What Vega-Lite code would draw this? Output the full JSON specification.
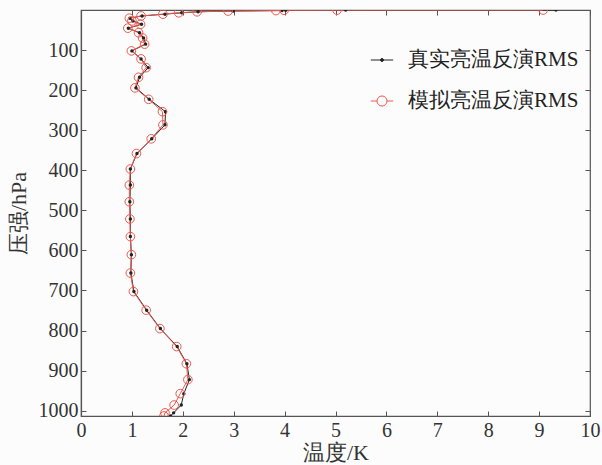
{
  "$schema": "https://vega.github.io/schema/vega-lite/v6.json",
  "width": 509,
  "height": 406,
  "autosize": {"type": "none"},
  "padding": {"left": 81, "top": 10, "right": 12, "bottom": 49},
  "background": "#fcfcfc",
  "config": {
    "view": {"stroke": "#555", "strokeWidth": 1.2},
    "font": "Liberation Serif, Times New Roman, serif",
    "axis": {
      "grid": false,
      "domainColor": "#555",
      "domainWidth": 1.2,
      "tickColor": "#555",
      "tickSize": -5,
      "labelFontSize": 20,
      "labelColor": "#333",
      "labelFont": "Liberation Serif, Times New Roman, serif",
      "labelFlush": false,
      "titleFontSize": 22,
      "titleFontWeight": "normal",
      "titleColor": "#333",
      "titleFont": "Liberation Serif, Times New Roman, serif"
    }
  },
  "datasets": {
    "rms": [
      {"p": 0.1, "s": "真实亮温反演RMS", "v": 9.33},
      {"p": 0.29, "s": "真实亮温反演RMS", "v": 5.2},
      {"p": 0.69, "s": "真实亮温反演RMS", "v": 4.02},
      {"p": 1.42, "s": "真实亮温反演RMS", "v": 3.95},
      {"p": 2.611, "s": "真实亮温反演RMS", "v": 2.99},
      {"p": 4.407, "s": "真实亮温反演RMS", "v": 2.3},
      {"p": 6.95, "s": "真实亮温反演RMS", "v": 1.98},
      {"p": 10.37, "s": "真实亮温反演RMS", "v": 1.65},
      {"p": 14.81, "s": "真实亮温反演RMS", "v": 1.2},
      {"p": 20.4, "s": "真实亮温反演RMS", "v": 0.96},
      {"p": 27.26, "s": "真实亮温反演RMS", "v": 1.02},
      {"p": 35.51, "s": "真实亮温反演RMS", "v": 1.19},
      {"p": 45.29, "s": "真实亮温反演RMS", "v": 0.93},
      {"p": 56.73, "s": "真实亮温反演RMS", "v": 1.15},
      {"p": 69.97, "s": "真实亮温反演RMS", "v": 1.23},
      {"p": 85.18, "s": "真实亮温反演RMS", "v": 1.27},
      {"p": 102.05, "s": "真实亮温反演RMS", "v": 1.0},
      {"p": 122.04, "s": "真实亮温反演RMS", "v": 1.18},
      {"p": 143.84, "s": "真实亮温反演RMS", "v": 1.32},
      {"p": 167.95, "s": "真实亮温反演RMS", "v": 1.15},
      {"p": 194.36, "s": "真实亮温反演RMS", "v": 1.08},
      {"p": 222.94, "s": "真实亮温反演RMS", "v": 1.34},
      {"p": 253.71, "s": "真实亮温反演RMS", "v": 1.66},
      {"p": 286.6, "s": "真实亮温反演RMS", "v": 1.65},
      {"p": 321.5, "s": "真实亮温反演RMS", "v": 1.39},
      {"p": 358.28, "s": "真实亮温反演RMS", "v": 1.1},
      {"p": 396.81, "s": "真实亮温反演RMS", "v": 0.97},
      {"p": 436.95, "s": "真实亮温反演RMS", "v": 0.97},
      {"p": 478.54, "s": "真实亮温反演RMS", "v": 0.96},
      {"p": 521.46, "s": "真实亮温反演RMS", "v": 0.97},
      {"p": 565.54, "s": "真实亮温反演RMS", "v": 0.97},
      {"p": 610.6, "s": "真实亮温反演RMS", "v": 0.99},
      {"p": 656.43, "s": "真实亮温反演RMS", "v": 0.98},
      {"p": 702.73, "s": "真实亮温反演RMS", "v": 1.04},
      {"p": 749.12, "s": "真实亮温反演RMS", "v": 1.29},
      {"p": 795.09, "s": "真实亮温反演RMS", "v": 1.56},
      {"p": 839.95, "s": "真实亮温反演RMS", "v": 1.89},
      {"p": 882.8, "s": "真实亮温反演RMS", "v": 2.08},
      {"p": 922.46, "s": "真实亮温反演RMS", "v": 2.13},
      {"p": 957.44, "s": "真实亮温反演RMS", "v": 2.02},
      {"p": 985.88, "s": "真实亮温反演RMS", "v": 1.97},
      {"p": 1005.43, "s": "真实亮温反演RMS", "v": 1.82},
      {"p": 1013.25, "s": "真实亮温反演RMS", "v": 1.76},
      {"p": 0.1, "s": "模拟亮温反演RMS", "v": 9.08},
      {"p": 0.29, "s": "模拟亮温反演RMS", "v": 5.03},
      {"p": 0.69, "s": "模拟亮温反演RMS", "v": 3.99},
      {"p": 1.42, "s": "模拟亮温反演RMS", "v": 3.83},
      {"p": 2.611, "s": "模拟亮温反演RMS", "v": 2.89},
      {"p": 4.407, "s": "模拟亮温反演RMS", "v": 2.28},
      {"p": 6.95, "s": "模拟亮温反演RMS", "v": 1.92},
      {"p": 10.37, "s": "模拟亮温反演RMS", "v": 1.61},
      {"p": 14.81, "s": "模拟亮温反演RMS", "v": 1.18},
      {"p": 20.4, "s": "模拟亮温反演RMS", "v": 0.95},
      {"p": 27.26, "s": "模拟亮温反演RMS", "v": 1.0},
      {"p": 35.51, "s": "模拟亮温反演RMS", "v": 1.17},
      {"p": 45.29, "s": "模拟亮温反演RMS", "v": 0.92},
      {"p": 56.73, "s": "模拟亮温反演RMS", "v": 1.13},
      {"p": 69.97, "s": "模拟亮温反演RMS", "v": 1.21},
      {"p": 85.18, "s": "模拟亮温反演RMS", "v": 1.25},
      {"p": 102.05, "s": "模拟亮温反演RMS", "v": 0.99},
      {"p": 122.04, "s": "模拟亮温反演RMS", "v": 1.18},
      {"p": 143.84, "s": "模拟亮温反演RMS", "v": 1.28},
      {"p": 167.95, "s": "模拟亮温反演RMS", "v": 1.13},
      {"p": 194.36, "s": "模拟亮温反演RMS", "v": 1.06},
      {"p": 222.94, "s": "模拟亮温反演RMS", "v": 1.33},
      {"p": 253.71, "s": "模拟亮温反演RMS", "v": 1.6},
      {"p": 286.6, "s": "模拟亮温反演RMS", "v": 1.61},
      {"p": 321.5, "s": "模拟亮温反演RMS", "v": 1.38},
      {"p": 358.28, "s": "模拟亮温反演RMS", "v": 1.09},
      {"p": 396.81, "s": "模拟亮温反演RMS", "v": 0.97},
      {"p": 436.95, "s": "模拟亮温反演RMS", "v": 0.95},
      {"p": 478.54, "s": "模拟亮温反演RMS", "v": 0.95},
      {"p": 521.46, "s": "模拟亮温反演RMS", "v": 0.96},
      {"p": 565.54, "s": "模拟亮温反演RMS", "v": 0.97},
      {"p": 610.6, "s": "模拟亮温反演RMS", "v": 0.99},
      {"p": 656.43, "s": "模拟亮温反演RMS", "v": 0.97},
      {"p": 702.73, "s": "模拟亮温反演RMS", "v": 1.03},
      {"p": 749.12, "s": "模拟亮温反演RMS", "v": 1.28},
      {"p": 795.09, "s": "模拟亮温反演RMS", "v": 1.55},
      {"p": 839.95, "s": "模拟亮温反演RMS", "v": 1.88},
      {"p": 882.8, "s": "模拟亮温反演RMS", "v": 2.07},
      {"p": 922.46, "s": "模拟亮温反演RMS", "v": 2.1},
      {"p": 957.44, "s": "模拟亮温反演RMS", "v": 1.95},
      {"p": 985.88, "s": "模拟亮温反演RMS", "v": 1.83},
      {"p": 1005.43, "s": "模拟亮温反演RMS", "v": 1.65},
      {"p": 1013.25, "s": "模拟亮温反演RMS", "v": 1.63}
    ]
  },
  "data": {"name": "rms"},
  "resolve": {"axis": {"x": "independent", "y": "independent"}},
  "layer": [
    {
      "mark": {"type": "line", "strokeWidth": 1, "clip": true},
      "encoding": {
        "x": {
          "field": "v", "type": "quantitative",
          "scale": {"domain": [0, 10], "nice": false, "zero": false},
          "axis": {"values": [0,1,2,3,4,5,6,7,8,9,10], "format": "d", "title": "温度/K", "labelFlush": false, "labelPadding": 9, "titlePadding": 2}
        },
        "y": {
          "field": "p", "type": "quantitative",
          "scale": {"domain": [0, 1013.25], "nice": false, "zero": false, "reverse": true},
          "axis": {"values": [100,200,300,400,500,600,700,800,900,1000], "format": "d", "title": "压强/hPa", "labelFlush": false, "labelPadding": 8, "titlePadding": 8}
        },
        "color": {
          "field": "s", "type": "nominal",
          "scale": {"domain": ["真实亮温反演RMS", "模拟亮温反演RMS"], "range": ["#222222", "#ee5a4f"]},
          "legend": {
            "title": null,
            "orient": "none",
            "legendX": 289,
            "legendY": 38,
            "padding": 0,
            "symbolSize": 500,
            "symbolStrokeWidth": 1,
            "labelFontSize": 21,
            "labelColor": "#222",
            "labelFont": "Liberation Serif, Times New Roman, serif",
            "labelLimit": 400,
            "labelOffset": 14,
            "rowPadding": 19,
            "encode": {
              "symbols": {
                "update": {
                  "shape": {"signal": "datum.value == '真实亮温反演RMS' ? 'M-1,0H1M0.14,0A0.14,0.14 0 1,1 -0.14,0A0.14,0.14 0 1,1 0.14,0' : 'M-1,0H-0.45M0.45,0H1M0.45,0A0.45,0.45 0 1,1 -0.45,0A0.45,0.45 0 1,1 0.45,0'"},
                  "fill": {"signal": "datum.value == '真实亮温反演RMS' ? '#222222' : 'transparent'"},
                  "stroke": {"signal": "datum.value == '真实亮温反演RMS' ? '#222222' : '#ee5a4f'"},
                  "strokeWidth": {"value": 1}
                }
              }
            }
          }
        },
        "order": {"field": "p", "type": "quantitative"}
      }
    },
    {
      "transform": [{"filter": "datum.s == '真实亮温反演RMS'"}],
      "mark": {"type": "point", "filled": true, "size": 12, "shape": "circle", "color": "#222222", "opacity": 1, "clip": true},
      "encoding": {
        "x": {"field": "v", "type": "quantitative", "axis": null},
        "y": {"field": "p", "type": "quantitative", "axis": null}
      }
    },
    {
      "transform": [{"filter": "datum.s == '模拟亮温反演RMS'"}],
      "mark": {"type": "point", "filled": false, "size": 75, "shape": "circle", "strokeWidth": 1, "color": "#ee5a4f", "opacity": 1, "clip": true},
      "encoding": {
        "x": {"field": "v", "type": "quantitative", "axis": null},
        "y": {"field": "p", "type": "quantitative", "axis": null}
      }
    },
    {
      "mark": {"type": "point", "opacity": 0},
      "encoding": {
        "x": {"field": "v", "type": "quantitative", "axis": {"orient": "top", "values": [0,1,2,3,4,5,6,7,8,9,10], "labels": false, "title": null, "domain": false}},
        "y": {"field": "p", "type": "quantitative", "axis": {"orient": "right", "values": [100,200,300,400,500,600,700,800,900,1000], "labels": false, "title": null, "domain": false}}
      }
    }
  ]
}
